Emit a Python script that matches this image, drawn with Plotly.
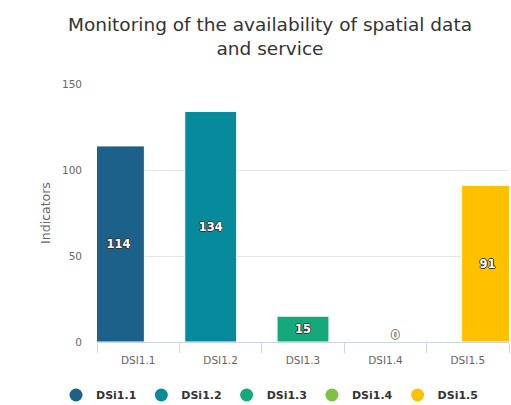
import plotly.graph_objects as go

categories = ["DSI1.1", "DSI1.2", "DSI1.3", "DSI1.4", "DSI1.5"]
series_names = ["DSi1.1", "DSi1.2", "DSi1.3", "DSi1.4", "DSi1.5"]
values = [114, 134, 15, 0, 91]
colors = ["#1b6189", "#078b9c", "#13a97b", "#7dc243", "#ffc000"]

W, H = 511, 405
L, R, T, B = 97, 2, 84, 63
PW, PH = W - L - R, H - T - B

BAR_W = 0.63
SLOT = 0.12

label_font = dict(family="DejaVu Sans", size=11.5, color="white", weight="bold",
                  shadow="1px 0 0 #333, -1px 0 0 #333, 0 1px 0 #333, 0 -1px 0 #333")
zero_font = dict(family="DejaVu Sans", size=11.5, color="white", weight="bold",
                 shadow="1px 0 0 #777, -1px 0 0 #777, 0 1px 0 #777, 0 -1px 0 #777")

fig = go.Figure()
n = len(categories)
for i, (cat, name, val, col) in enumerate(zip(categories, series_names, values, colors)):
    center = (i - (n - 1) / 2) * SLOT
    fig.add_trace(go.Bar(
        x=[cat], y=[val], name=name,
        width=BAR_W, offset=center - BAR_W / 2,
        marker=dict(color=col, line=dict(color="white", width=1)),
        text=[str(val)],
        textposition="inside" if val else "none",
        insidetextanchor="middle", constraintext="none",
        insidetextfont=label_font,
        showlegend=False, cliponaxis=False,
    ))
    if not val:
        # label of an empty bar, sitting just above its baseline
        fig.add_trace(go.Scatter(
            x=[i + center], y=[val], xaxis="x2", mode="text",
            text=[str(val)], textposition="top center",
            textfont=zero_font, showlegend=False, hoverinfo="skip",
            cliponaxis=False,
        ))
    fig.add_trace(go.Scatter(
        x=[None], y=[None], mode="markers", name=name,
        marker=dict(symbol="circle", size=13, color=col),
        showlegend=True,
    ))

fig.update_layout(
    width=W, height=H,
    margin=dict(l=L, r=R, t=T, b=B, autoexpand=False),
    paper_bgcolor="white", plot_bgcolor="white",
    barmode="overlay",
    title=dict(
        text="Monitoring of the availability of spatial data<br>and service",
        x=270 / W, xref="container", xanchor="center",
        y=1 - 31 / H, yref="container", yanchor="top",
        font=dict(family="DejaVu Sans", size=18.5, color="#333333"),
    ),
    xaxis=dict(
        type="category", categoryorder="array", categoryarray=categories,
        range=[-0.5, n - 0.5], tickson="boundaries", automargin=False,
        ticks="outside", ticklen=10, tickcolor="#ccd6eb", tickwidth=1,
        ticklabelstandoff=8,
        showline=True, linecolor="#ccd6eb", linewidth=1,
        showgrid=False, zeroline=False,
        tickfont=dict(family="DejaVu Sans", size=10.5, color="#666666"),
    ),
    xaxis2=dict(overlaying="x", range=[-0.5, n - 0.5], visible=False),
    yaxis=dict(
        range=[0, 150], tickvals=[0, 50, 100, 150], automargin=False,
        showgrid=True, gridcolor="#e6e6e6", gridwidth=1,
        zeroline=False, showline=False,
        ticklabelstandoff=14,
        tickfont=dict(family="DejaVu Sans", size=10.5, color="#666666"),
        title=dict(text="Indicators", standoff=8,
                   font=dict(family="DejaVu Sans", size=12.5, color="#666666")),
    ),
    legend=dict(
        orientation="h", xref="paper", yref="paper",
        x=(56 - L) / PW, xanchor="left",
        y=-(395 - (H - B)) / PH, yanchor="middle",
        font=dict(family="DejaVu Sans", size=11, color="#333333", weight="bold"),
        itemsizing="trace",
    ),
)

fig.write_html("out.html", post_script="document.body.style.margin='0';",
               config={"displayModeBar": False})
